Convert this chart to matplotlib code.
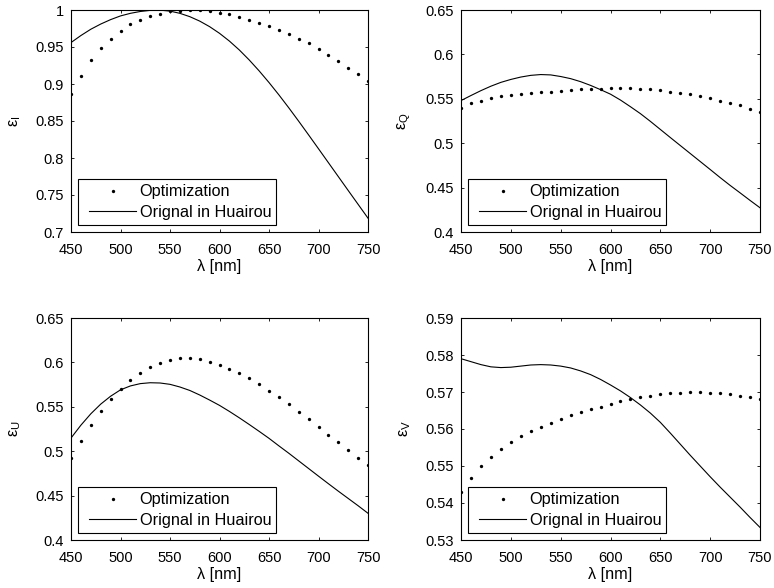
import matplotlib
matplotlib.use("Agg")
import matplotlib.pyplot as plt
from matplotlib.lines import Line2D
from matplotlib.legend_handler import HandlerLine2D

plt.rcParams["font.family"] = ["Liberation Sans", "DejaVu Sans"]
plt.rcParams["mathtext.fontset"] = "custom"
plt.rcParams["mathtext.rm"] = "Liberation Sans"
plt.rcParams["mathtext.it"] = "Liberation Sans"
plt.rcParams["mathtext.default"] = "regular"

# Wavelength grid [nm]
wavelength = [450, 460, 470, 480, 490, 500, 510, 520, 530, 540, 550,
              560, 570, 580, 590, 600, 610, 620, 630, 640, 650,
              660, 670, 680, 690, 700, 710, 720, 730, 740, 750]

# Optimized efficiencies
opt_I = [0.886, 0.911, 0.932, 0.948, 0.961, 0.972, 0.981, 0.987, 0.992, 0.995, 0.998,
         0.999, 1.000, 1.000, 0.998, 0.996, 0.994, 0.991, 0.987, 0.983, 0.979,
         0.973, 0.968, 0.961, 0.955, 0.947, 0.939, 0.931, 0.922, 0.914, 0.904]
opt_Q = [0.540, 0.545, 0.548, 0.551, 0.553, 0.5545, 0.5557, 0.5565, 0.5572, 0.558, 0.559,
         0.560, 0.5606, 0.561, 0.5614, 0.5618, 0.5618, 0.5618, 0.561, 0.5606, 0.5595,
         0.558, 0.5565, 0.555, 0.5527, 0.5505, 0.548, 0.545, 0.5425, 0.5384, 0.535]
opt_U = [0.4927, 0.5118, 0.5292, 0.5449, 0.5584, 0.570, 0.5802, 0.5884, 0.5952, 0.5997, 0.6031,
         0.6046, 0.6046, 0.6035, 0.6008, 0.5974, 0.5929, 0.5877, 0.5821, 0.5753, 0.5682,
         0.5607, 0.5528, 0.5445, 0.5359, 0.5273, 0.5186, 0.510, 0.5014, 0.4927, 0.4841]
opt_V = [0.5431, 0.5468, 0.5499, 0.5525, 0.5547, 0.5565, 0.558, 0.5595, 0.5605, 0.5617, 0.5627,
         0.5637, 0.5646, 0.5653, 0.566, 0.5668, 0.5675, 0.568, 0.5686, 0.5689, 0.5695,
         0.5696, 0.5698, 0.5699, 0.5699, 0.5698, 0.5696, 0.5694, 0.569, 0.5687, 0.5681]

# Original (Huairou) efficiencies
orig_I = [0.956, 0.9655, 0.974, 0.981, 0.987, 0.992, 0.9955, 0.998, 0.9995, 0.9998, 0.9985,
          0.9955, 0.991, 0.985, 0.9775, 0.9685, 0.958, 0.946, 0.9325, 0.9178, 0.902,
          0.8853, 0.8678, 0.8497, 0.8312, 0.8125, 0.7937, 0.7749, 0.7561, 0.7374, 0.7187]
orig_Q = [0.548, 0.5537, 0.5592, 0.5642, 0.5685, 0.5718, 0.5745, 0.5764, 0.5773, 0.5769, 0.5751,
          0.5727, 0.5693, 0.5651, 0.5603, 0.5552, 0.5486, 0.5411, 0.5333, 0.5246, 0.5155,
          0.5064, 0.4974, 0.4884, 0.4794, 0.4704, 0.4613, 0.4525, 0.4441, 0.4356, 0.4273]
orig_U = [0.5148, 0.5293, 0.5421, 0.5530, 0.5619, 0.5691, 0.5735, 0.5761, 0.5771, 0.5768, 0.5753,
          0.5723, 0.5684, 0.5633, 0.5576, 0.5516, 0.5448, 0.5376, 0.5301, 0.5224, 0.5145,
          0.5060, 0.4977, 0.4891, 0.4805, 0.4719, 0.4634, 0.4550, 0.4468, 0.4386, 0.4301]
orig_V = [0.5790, 0.5782, 0.5774, 0.5768, 0.5766, 0.5767, 0.5770, 0.5773, 0.5774, 0.5773, 0.5770,
          0.5765, 0.5757, 0.5747, 0.5734, 0.5719, 0.5703, 0.5685, 0.5665, 0.5643, 0.5618,
          0.5589, 0.5559, 0.5529, 0.5500, 0.5471, 0.5443, 0.5416, 0.5389, 0.5361, 0.5334]

x_ticks = [450, 500, 550, 600, 650, 700, 750]
y_ticks_I = [0.7, 0.75, 0.8, 0.85, 0.9, 0.95, 1.0]
y_ticks_Q = [0.4, 0.45, 0.5, 0.55, 0.6, 0.65]
y_ticks_U = [0.4, 0.45, 0.5, 0.55, 0.6, 0.65]
y_ticks_V = [0.53, 0.54, 0.55, 0.56, 0.57, 0.58, 0.59]

panels = [
    (opt_I, orig_I, y_ticks_I, "I", ["0.7", "0.75", "0.8", "0.85", "0.9", "0.95", "1"]),
    (opt_Q, orig_Q, y_ticks_Q, "Q", ["0.4", "0.45", "0.5", "0.55", "0.6", "0.65"]),
    (opt_U, orig_U, y_ticks_U, "U", ["0.4", "0.45", "0.5", "0.55", "0.6", "0.65"]),
    (opt_V, orig_V, y_ticks_V, "V", ["0.53", "0.54", "0.55", "0.56", "0.57", "0.58", "0.59"]),
]

W, H = 774, 588
fig = plt.figure(figsize=(W / 100, H / 100), dpi=100)

# axes boxes in pixels: left, top, right, bottom
boxes = [(71, 10, 368, 232), (461, 10, 760, 232),
         (71, 318, 368, 540), (461, 318, 760, 540)]
label_x = [-0.163, -0.16, -0.163, -0.16]

TICK_FS = 10.5
LABEL_FS = 11.7
handler = {Line2D: HandlerLine2D(xpad=0.37)}

for (opt, orig, yt, sub, ytl), (l, t, r, b), lx in zip(panels, boxes, label_x):
    ax = fig.add_axes([l / W, 1 - b / H, (r - l) / W, (b - t) / H])
    ax.plot(wavelength, opt, linestyle="none", marker="o", markersize=2.4,
            color="black", markeredgewidth=0, label="Optimization")
    ax.plot(wavelength, orig, color="black", linewidth=0.8,
            label="Orignal in Huairou")
    ax.set_xlim(450, 750)
    ax.set_ylim(yt[0], yt[-1])
    ax.set_xticks(x_ticks)
    ax.set_yticks(yt)
    ax.set_yticklabels(ytl)
    ax.tick_params(direction="in", length=2.5, width=0.6, top=True, right=True,
                   labelsize=TICK_FS, colors="black")
    ax.tick_params(axis="x", pad=8)
    ax.tick_params(axis="y", pad=5)
    for s in ax.spines.values():
        s.set_linewidth(0.8)
    ax.set_xlabel("λ [nm]", fontsize=LABEL_FS, labelpad=1)
    ax.set_ylabel("ε$_{" + sub + "}$", fontsize=LABEL_FS)
    ax.yaxis.set_label_coords(lx, 0.5)
    leg = ax.legend(loc="lower left", bbox_to_anchor=(0.0, 0.0),
                    borderaxespad=0.46, fontsize=LABEL_FS, frameon=True,
                    fancybox=False, handlelength=3.26, handletextpad=0.2,
                    borderpad=0.3, labelspacing=0.33, numpoints=1,
                    handler_map=handler)
    leg.get_frame().set_edgecolor("black")
    leg.get_frame().set_linewidth(0.8)
    leg.get_frame().set_alpha(1)

fig.savefig("out.png", dpi=100)
